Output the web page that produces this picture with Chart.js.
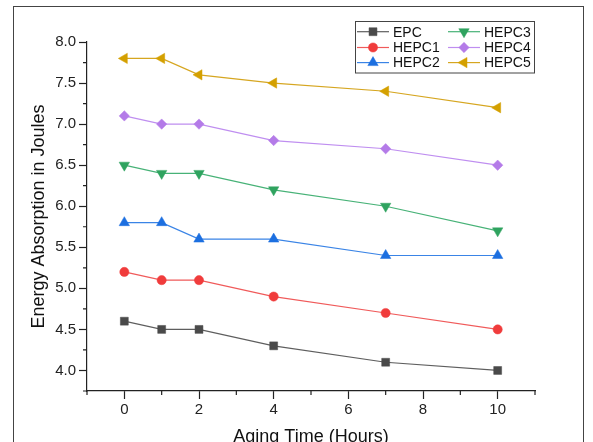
<!DOCTYPE html>
<html>
<head>
<meta charset="utf-8">
<script src="https://cdn.jsdelivr.net/npm/chart.js@4/dist/chart.umd.min.js"></script>
<style>
  html, body { margin: 0; padding: 0; background: #fff; overflow: hidden; }
  canvas { display: block; }
</style>
</head>
<body>
<canvas id="agingChart" width="593" height="442"></canvas>
<script>
// aging time vs energy absorption

const agingHours = [0, 1, 2, 4, 7, 10];
const seriesNames = ['EPC', 'HEPC1', 'HEPC2', 'HEPC3', 'HEPC4', 'HEPC5'];

const epc   = [4.6, 4.5, 4.5, 4.3, 4.1, 4.0];
const hepc1 = [5.2, 5.1, 5.1, 4.9, 4.7, 4.5];
const hepc2 = [5.8, 5.8, 5.6, 5.6, 5.4, 5.4];
const hepc3 = [6.5, 6.4, 6.4, 6.2, 6.0, 5.7];
const hepc4 = [7.1, 7.0, 7.0, 6.8, 6.7, 6.5];
const hepc5 = [7.8, 7.8, 7.6, 7.5, 7.4, 7.2];

const xTicks = [0, 2, 4, 6, 8, 10];
const xMinorTicks = [-1, 1, 3, 5, 7, 9, 11];
const yTicks = [4.0, 4.5, 5.0, 5.5, 6.0, 6.5, 7.0, 7.5, 8.0];
const yMinorTicks = [3.75, 4.25, 4.75, 5.25, 5.75, 6.25, 6.75, 7.25, 7.75];

// marker colour, line colour, point style, radius, rotation
const styles = [
    ['#4a4a4a', '#5e5e5e', 'rect', 5.6, 0],
    ['#f03c3c', '#f05a5a', 'circle', 4.6, 0],
    ['#1c6fe0', '#3a84e6', 'triangle', 6, 0],
    ['#2fa35f', '#47b277', 'triangle', 6, 180],
    ['#b47be8', '#bf8ef0', 'rectRot', 5.2, 0],
    ['#d4a000', '#d6a620', 'triangle', 6, 270]
];

const allSeries = [epc, hepc1, hepc2, hepc3, hepc4, hepc5];
const FONT = 'Liberation Sans, Arial, sans-serif';
const AXIS = '#222';

const datasets = allSeries.map((vals, i) => ({
    label: seriesNames[i],
    data: vals.map((v, j) => ({ x: agingHours[j], y: v })),
    borderColor: styles[i][1],
    borderWidth: 1.2,
    pointBackgroundColor: styles[i][0],
    pointBorderColor: styles[i][0],
    pointBorderWidth: 0.5,
    pointStyle: styles[i][2],
    pointRadius: styles[i][3],
    pointRotation: styles[i][4],
    tension: 0
}));

const framePlugin = {
    id: 'frame',
    beforeDraw(chart) {
        const ctx = chart.ctx;
        ctx.save();
        ctx.strokeStyle = '#444';
        ctx.lineWidth = 1;
        ctx.strokeRect(13.5, 6.5, 570, 500);
        ctx.restore();
    },
    afterDraw(chart) {
        const ctx = chart.ctx;
        const xs = chart.scales.x, ys = chart.scales.y;
        const area = chart.chartArea;
        ctx.save();
        ctx.strokeStyle = AXIS;
        ctx.lineWidth = 1.2;
        // minor ticks
        ctx.beginPath();
        yMinorTicks.forEach(v => {
            const py = ys.getPixelForValue(v);
            ctx.moveTo(area.left - 4, py);
            ctx.lineTo(area.left, py);
        });
        xMinorTicks.forEach(v => {
            const px = xs.getPixelForValue(v);
            ctx.moveTo(px, area.bottom);
            ctx.lineTo(px, area.bottom + 4);
        });
        ctx.stroke();

        // legend box
        const bx = 355.5, by = 21.5, bw = 179, bh = 51.5;
        ctx.fillStyle = '#fff';
        ctx.fillRect(bx, by, bw, bh);
        ctx.strokeStyle = '#444';
        ctx.lineWidth = 1;
        ctx.strokeRect(bx, by, bw, bh);

        const rowY = [31.7, 47.5, 62.6];
        const colX = [357, 448];
        ctx.font = '14px ' + FONT;
        ctx.textBaseline = 'middle';
        ctx.textAlign = 'left';
        chart.data.datasets.forEach((ds, i) => {
            const col = Math.floor(i / 3), row = i % 3;
            const x0 = colX[col], y = rowY[row];
            ctx.strokeStyle = ds.borderColor;
            ctx.lineWidth = 1.2;
            ctx.beginPath();
            ctx.moveTo(x0, y);
            ctx.lineTo(x0 + 32, y);
            ctx.stroke();
            ctx.fillStyle = ds.pointBackgroundColor;
            ctx.strokeStyle = ds.pointBorderColor;
            ctx.lineWidth = 0.5;
            Chart.helpers.drawPoint(ctx, {
                pointStyle: ds.pointStyle,
                radius: ds.pointRadius,
                rotation: ds.pointRotation,
                borderWidth: 0.5
            }, x0 + 16, y);
            ctx.fillStyle = '#111';
            ctx.fillText(ds.label, x0 + 36, y + 1);
        });
        ctx.restore();
    }
};

new Chart(document.getElementById('agingChart').getContext('2d'), {
    type: 'line',
    data: { datasets: datasets },
    options: {
        responsive: false,
        animation: false,
        layout: { padding: { left: 0, top: 42, right: 58, bottom: 0 } },
        plugins: {
            legend: { display: false },
            tooltip: { enabled: false }
        },
        scales: {
            x: {
                type: 'linear',
                min: -1,
                max: 11,
                afterBuildTicks: s => { s.ticks = xTicks.map(v => ({ value: v })); },
                afterFit: s => { s.height = 51; },
                ticks: {
                    color: AXIS,
                    font: { family: FONT, size: 15 },
                    padding: 2,
                    maxRotation: 0,
                    callback: v => v
                },
                grid: { drawOnChartArea: false, drawTicks: true, tickLength: 8, tickColor: AXIS, tickWidth: 1.2 },
                border: { display: true, color: AXIS, width: 1.2 },
                title: {
                    display: true,
                    text: 'Aging Time (Hours)',
                    color: '#111',
                    font: { family: FONT, size: 18 },
                    padding: { top: 0, bottom: -6 }
                }
            },
            y: {
                type: 'linear',
                min: 3.75,
                max: 8,
                afterBuildTicks: s => { s.ticks = yTicks.map(v => ({ value: v })); },
                afterFit: s => { s.width = 87; },
                ticks: {
                    color: AXIS,
                    font: { family: FONT, size: 15 },
                    padding: 3,
                    callback: v => v.toFixed(1)
                },
                grid: { drawOnChartArea: false, drawTicks: true, tickLength: 8, tickColor: AXIS, tickWidth: 1.2 },
                border: { display: true, color: AXIS, width: 1.2 },
                title: {
                    display: true,
                    text: 'Energy Absorption in Joules',
                    color: '#111',
                    font: { family: FONT, size: 18 },
                    padding: { top: 28, bottom: 0 }
                }
            }
        }
    },
    plugins: [framePlugin]
});
</script>
</body>
</html>
